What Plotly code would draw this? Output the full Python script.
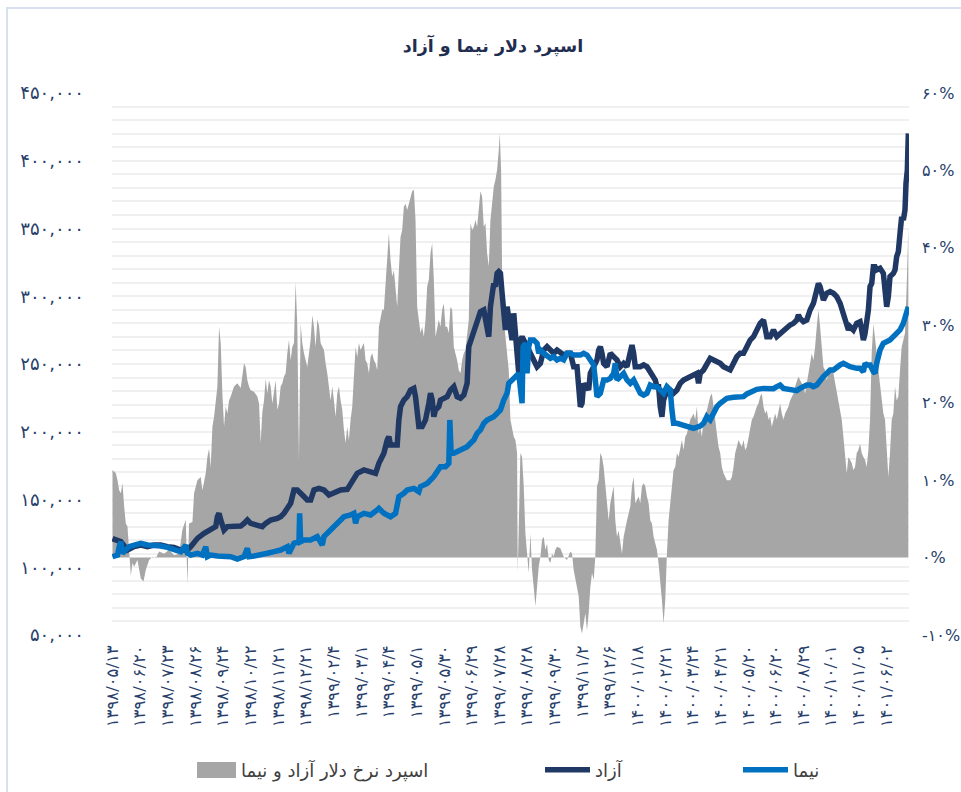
import plotly.graph_objects as go

# ---------------- data ----------------
x_labels = ["۱۳۹۸/۰۵/۱۳", "۱۳۹۸/۰۶/۲۰", "۱۳۹۸/۰۷/۲۳", "۱۳۹۸/۰۸/۲۶", "۱۳۹۸/۰۹/۲۴",
            "۱۳۹۸/۱۰/۲۲", "۱۳۹۸/۱۱/۲۱", "۱۳۹۸/۱۲/۲۱", "۱۳۹۹/۰۲/۴", "۱۳۹۹/۰۳/۱",
            "۱۳۹۹/۰۴/۴", "۱۳۹۹/۰۵/۱", "۱۳۹۹/۰۵/۳۰", "۱۳۹۹/۰۶/۲۹", "۱۳۹۹/۰۷/۲۸",
            "۱۳۹۹/۰۸/۲۸", "۱۳۹۹/۰۹/۳۰", "۱۳۹۹/۱۱/۲", "۱۳۹۹/۱۲/۶", "۱۴۰۰/۰۱/۱۸",
            "۱۴۰۰/۰۲/۲۱", "۱۴۰۰/۰۳/۲۴", "۱۴۰۰/۰۴/۲۱", "۱۴۰۰/۰۵/۲۰", "۱۴۰۰/۰۶/۲۰",
            "۱۴۰۰/۰۸/۲۹", "۱۴۰۰/۱۰/۰۱", "۱۴۰۰/۱۱/۰۵", "۱۴۰۱/۰۶/۰۲"]
label_every = 83  # observations between labelled dates

spread_obs = [0, 10, 15, 20, 25, 30, 35, 40, 45, 50, 55, 60, 65, 75, 85, 93, 100, 110, 120, 130,
              140, 155, 170, 185, 200, 210, 220, 225, 230, 240, 245, 255, 265, 270, 280, 285, 290, 295, 300, 305,
              310, 315, 320, 325, 330, 335, 340, 345, 350, 355, 365, 375, 385, 395, 400, 405, 410, 415, 425, 435,
              440, 445, 450, 455, 460, 465, 470, 475, 480, 485, 490, 495, 500, 505, 510, 515, 520, 525, 530, 535,
              540, 545, 550, 555, 560, 565, 570, 575, 585, 595, 600, 605, 610, 615, 620, 625, 635, 640, 645, 655,
              660, 665, 670, 675, 680, 685, 690, 695, 700, 705, 710, 715, 720, 725, 730, 735, 740, 745, 755, 760,
              765, 770, 775, 780, 785, 790, 795, 800, 805, 810, 815, 820, 825, 830, 835, 840, 845, 850, 855, 860,
              865, 870, 875, 880, 885, 890, 895, 900, 905, 910, 915, 920, 925, 930, 935, 940, 945, 950, 955, 960,
              965, 970, 975, 980, 985, 990, 995, 1000, 1005, 1010, 1015, 1020, 1025, 1030, 1035, 1040, 1045, 1050, 1055, 1060,
              1065, 1070, 1075, 1080, 1085, 1090, 1095, 1100, 1105, 1110, 1115, 1120, 1125, 1130, 1135, 1140, 1145, 1150, 1155, 1160,
              1163, 1167, 1170, 1175, 1180, 1185, 1190, 1195, 1200, 1205, 1210, 1215, 1217, 1220, 1225, 1230, 1235, 1240, 1245, 1250,
              1255, 1260, 1265, 1270, 1275, 1280, 1285, 1290, 1295, 1300, 1305, 1310, 1315, 1320, 1325, 1330, 1335, 1345, 1355, 1365,
              1375, 1380, 1385, 1390, 1395, 1400, 1405, 1410, 1415, 1420, 1425, 1430, 1435, 1440, 1445, 1450, 1455, 1460, 1465, 1470,
              1475, 1480, 1485, 1490, 1495, 1500, 1505, 1510, 1515, 1520, 1525, 1530, 1535, 1540, 1545, 1550, 1555, 1560, 1565, 1570,
              1575, 1580, 1585, 1590, 1595, 1600, 1605, 1610, 1615, 1620, 1625, 1630, 1635, 1640, 1645, 1650, 1655, 1660, 1665, 1670,
              1675, 1680, 1685, 1690, 1695, 1700, 1705, 1710, 1715, 1720, 1725, 1730, 1735, 1740, 1745, 1750, 1755, 1760, 1765, 1770,
              1775, 1780, 1785, 1790, 1795, 1800, 1805, 1810, 1815, 1820, 1825, 1830, 1835, 1840, 1845, 1855, 1860, 1865, 1870, 1875,
              1880, 1885, 1890, 1895, 1900, 1905, 1910, 1915, 1920, 1925, 1930, 1935, 1940, 1945, 1950, 1955, 1960, 1965, 1970, 1975,
              1980, 1985, 1990, 1995, 2000, 2005, 2010, 2015, 2020, 2025, 2030, 2035, 2040, 2045, 2050, 2055, 2060, 2065, 2070, 2075,
              2080, 2085, 2090, 2095, 2100, 2105, 2110, 2115, 2120, 2125, 2130, 2135, 2140, 2145, 2150, 2155, 2160, 2165, 2170, 2175,
              2180, 2185, 2190, 2195, 2200, 2205, 2210, 2215, 2220, 2225, 2230, 2235, 2240, 2245, 2250, 2255, 2260, 2265, 2270, 2275,
              2280, 2285, 2290, 2295, 2300, 2305, 2310, 2315, 2320, 2325, 2330, 2335, 2340, 2345, 2350, 2355, 2360, 2365, 2370, 2375,
              2380, 2385, 2390]
spread_pct = [11.3, 10.9, 10.0, 8.7, 8.3, 9.6, 6.6, 4.4, 4.0, 0.5, -2.3, -0.7, -1.2, -0.3, -2.7, -3.1, -1.6, -0.3, 0.1, -0.1,
              0.8, 0.5, 1.0, 0.3, 0.5, 3.6, 4.9, -3.5, 4.4, 4.6, 8.3, 10.0, 10.4, 8.7, 10.9, 13.0, 14.1, 11.7, 16.9, 18.2,
              19.9, 22.1, 29.8, 27.7, 21.2, 16.9, 19.5, 18.6, 20.3, 20.8, 22.1, 22.5, 21.9, 25.1, 24.6, 22.9, 22.1, 21.6, 21.4, 20.8,
              19.9, 14.8, 18.8, 20.3, 23.1, 21.2, 22.9, 22.1, 19.9, 21.2, 22.9, 19.1, 19.9, 22.1, 22.5, 23.4, 23.8, 26.4, 28.1, 25.5,
              27.2, 27.7, 35.6, 29.8, 12.6, 30.2, 27.7, 26.4, 24.6, 28.1, 31.3, 29.8, 27.2, 30.7, 30.0, 27.7, 26.8, 25.1, 23.8, 20.3,
              22.1, 20.3, 18.2, 21.2, 22.1, 20.3, 19.1, 16.5, 14.8, 16.9, 15.2, 17.8, 19.5, 23.4, 27.2, 25.9, 27.7, 26.8, 27.7, 25.5,
              25.1, 23.8, 25.9, 26.4, 25.5, 25.1, 24.2, 29.8, 31.1, 32.0, 32.0, 35.0, 39.3, 41.9, 38.4, 36.3, 37.1, 35.0, 32.4, 37.1,
              41.4, 42.3, 45.3, 45.7, 44.9, 45.7, 46.6, 47.3, 47.5, 43.6, 32.4, 30.7, 29.0, 29.8, 28.5, 30.7, 35.0, 35.9, 39.3, 40.6,
              35.9, 28.5, 29.8, 30.7, 29.8, 32.0, 32.8, 29.8, 29.8, 29.0, 32.4, 32.0, 27.2, 26.4, 25.5, 24.2, 23.8, 25.5, 26.4, 26.8,
              28.5, 30.7, 43.2, 42.3, 42.7, 43.6, 42.7, 45.3, 47.3, 46.6, 42.7, 43.2, 39.3, 37.6, 43.6, 45.7, 47.9, 48.8, 50.1, 52.6,
              54.8, 50.1, 37.1, 30.7, 28.5, 26.4, 24.2, 17.8, 16.9, 15.6, 15.2, 13.5, -2.0, 2.7, 13.5, 13.0, 9.2, 3.1, 0.5, -2.0,
              3.1, -1.6, -3.8, -6.3, -3.8, -1.2, 0.1, 2.3, 2.7, 1.0, 1.8, -0.3, -0.7, 0.5, 0.1, 1.0, 1.4, 1.2, 0.1, -0.3,
              0.8, 0.5, -1.6, -2.9, -3.8, -5.0, -8.9, -9.8, -8.5, -7.2, -9.4, -7.2, -3.8, -2.0, -2.9, 0.1, 9.2, 10.0, 13.5, 13.0,
              11.7, 9.2, 7.0, 4.8, 7.0, 8.3, 9.2, 4.8, 2.7, 3.5, 1.8, 0.5, 2.7, 4.0, 4.8, 5.7, 6.6, 9.2, 10.4, 7.0,
              7.4, 7.9, 7.0, 9.2, 9.6, 9.2, 7.9, 7.0, 4.8, 4.4, 2.7, 1.8, 1.0, -0.8, -2.9, -5.5, -8.5, -5.5, 0.5, 4.8,
              7.0, 9.2, 11.3, 11.7, 13.5, 13.0, 14.3, 15.2, 13.9, 15.6, 16.0, 16.9, 17.8, 18.2, 18.6, 17.8, 19.5, 16.0, 16.9, 15.6,
              17.8, 18.6, 19.0, 19.9, 20.8, 21.2, 19.0, 17.8, 16.0, 14.3, 13.5, 11.7, 10.9, 10.4, 10.0, 10.0, 10.4, 11.7, 13.5, 14.3,
              15.2, 14.7, 14.3, 15.2, 13.9, 14.3, 15.6, 16.9, 17.8, 18.2, 19.0, 19.5, 19.9, 20.8, 21.2, 19.5, 18.6, 19.0, 17.8, 18.2,
              16.9, 17.8, 18.6, 17.8, 19.0, 19.9, 18.6, 17.8, 18.6, 19.0, 19.5, 20.3, 20.8, 21.2, 22.1, 22.9, 23.4, 22.9, 22.5, 22.1,
              21.2, 22.5, 23.8, 24.6, 26.4, 25.5, 27.2, 29.8, 32.0, 29.8, 27.2, 24.6, 24.2, 22.9, 23.8, 24.2, 24.6, 23.8, 22.5, 21.2,
              19.9, 19.0, 17.8, 15.6, 13.5, 10.9, 13.0, 12.6, 12.2, 11.3, 11.7, 13.5, 13.9, 14.7, 13.5, 13.0, 12.6, 11.7, 13.9, 17.8,
              26.4, 30.2, 28.5, 26.4, 24.2, 22.1, 19.9, 18.6, 17.8, 13.5, 10.4, 13.5, 17.8, 18.6, 22.1, 20.3, 20.8, 24.2, 27.2, 28.1,
              29.0, 35.0, 42.7]

azad_obs = [0, 25, 45, 65, 85, 105, 125, 145, 165, 185, 205, 225, 235, 245, 255, 275, 295, 310, 315, 320,
            325, 335, 345, 365, 385, 395, 405, 415, 435, 450, 460, 475, 495, 505, 515, 525, 535, 545, 555, 565,
            585, 595, 605, 620, 635, 650, 665, 685, 705, 715, 725, 735, 755, 775, 790, 800, 815, 825, 830, 835,
            845, 855, 860, 865, 875, 885, 895, 905, 910, 915, 920, 930, 940, 950, 955, 960, 965, 970, 980, 985,
            995, 1005, 1015, 1025, 1035, 1045, 1055, 1065, 1070, 1080, 1090, 1100, 1105, 1115, 1125, 1130, 1135, 1145, 1150, 1155,
            1160, 1165, 1170, 1175, 1180, 1185, 1190, 1195, 1200, 1205, 1210, 1215, 1220, 1225, 1230, 1235, 1245, 1255, 1265, 1275,
            1285, 1295, 1305, 1315, 1325, 1335, 1345, 1355, 1365, 1375, 1385, 1395, 1400, 1405, 1410, 1415, 1420, 1425, 1430, 1435,
            1445, 1455, 1460, 1465, 1470, 1475, 1485, 1495, 1505, 1515, 1525, 1535, 1545, 1555, 1560, 1565, 1570, 1585, 1595, 1605,
            1615, 1620, 1625, 1630, 1635, 1640, 1645, 1650, 1655, 1665, 1675, 1685, 1695, 1705, 1715, 1725, 1735, 1745, 1755, 1760,
            1765, 1775, 1785, 1795, 1805, 1815, 1825, 1835, 1845, 1855, 1865, 1875, 1885, 1895, 1905, 1915, 1925, 1935, 1945, 1955,
            1960, 1965, 1975, 1985, 1995, 2005, 2015, 2025, 2035, 2045, 2055, 2060, 2065, 2075, 2085, 2095, 2105, 2115, 2120, 2125,
            2130, 2135, 2145, 2155, 2165, 2175, 2185, 2195, 2200, 2205, 2210, 2215, 2225, 2235, 2245, 2250, 2255, 2260, 2265, 2270,
            2275, 2280, 2285, 2290, 2295, 2305, 2315, 2320, 2325, 2330, 2335, 2345, 2350, 2355, 2360, 2365, 2370, 2375, 2380, 2383,
            2387, 2390]
azad_rate = [121100, 118900, 112700, 115200, 116400, 115200, 116400, 116400, 115200, 114700, 112700, 112700, 115200, 118100, 121300, 125000, 127500, 130000, 137300, 139800,
             134900, 127500, 130000, 130000, 130400, 132400, 134900, 132400, 131200, 130000, 132400, 134900, 136100, 137300, 139800, 143500, 147200, 157000, 157000, 154600,
             149600, 149600, 157000, 158200, 157000, 153300, 154600, 157000, 157500, 161900, 166900, 169300, 171800, 170500, 169300, 176700, 184100, 193900, 196400, 190200,
             190200, 190200, 208700, 218500, 223400, 225900, 230800, 232000, 225900, 208700, 203800, 203800, 208700, 221000, 228400, 223400, 211100, 216100, 218500, 223400,
             224700, 225900, 230800, 233300, 225900, 224700, 227100, 235700, 262800, 270200, 275100, 282500, 288600, 289900, 277600, 270200, 292300, 309500, 307100, 316900,
             318100, 316900, 302200, 282500, 275100, 292300, 282500, 270200, 267700, 287400, 270200, 255400, 243100, 267700, 270200, 267700, 262800, 257900, 253000, 248000,
             250500, 260300, 262800, 260300, 257900, 260300, 257900, 256600, 257900, 257900, 248000, 248000, 233300, 218500, 221000, 235700, 233300, 233300, 230800, 243100,
             248000, 253000, 260300, 262800, 257900, 250500, 248000, 257900, 255400, 253000, 248000, 250500, 248000, 257900, 264000, 257900, 248000, 248000, 249300, 248000,
             244300, 243100, 240700, 238200, 233300, 233300, 218500, 211100, 223400, 230800, 230800, 228400, 230800, 235700, 238200, 239400, 240700, 241900, 243100, 235700,
             243100, 245600, 250500, 254200, 253000, 251700, 250500, 248000, 246800, 245600, 250500, 255400, 257900, 257900, 262800, 267700, 270200, 275100, 280000, 282500,
             272600, 270200, 270200, 275100, 270200, 272600, 275100, 277600, 278800, 280000, 282500, 286200, 283700, 281200, 282500, 289900, 294800, 304600, 309500, 307100,
             302200, 297200, 302200, 303400, 302200, 299700, 294800, 287400, 282500, 277600, 275100, 277600, 275100, 280000, 281200, 275100, 267700, 272600, 280000, 289900,
             307100, 309500, 321800, 321800, 319400, 320600, 316900, 307100, 292300, 299700, 314500, 316900, 319400, 329200, 332900, 346400, 358700, 356300, 363700, 383300,
             393200, 420200]

nima_obs = [0, 15, 20, 25, 30, 40, 50, 65, 85, 105, 125, 145, 165, 185, 205, 220, 225, 235, 255, 270,
            280, 285, 295, 315, 335, 355, 375, 395, 405, 410, 425, 445, 465, 485, 505, 525, 530, 545, 560, 562,
            565, 575, 595, 615, 630, 635, 655, 675, 695, 715, 725, 730, 735, 755, 775, 795, 800, 815, 825, 835,
            850, 860, 875, 885, 905, 920, 925, 945, 965, 985, 1000, 1010, 1013, 1017, 1025, 1045, 1065, 1075, 1085, 1095,
            1105, 1115, 1125, 1145, 1155, 1165, 1175, 1185, 1190, 1200, 1215, 1220, 1230, 1233, 1240, 1245, 1250, 1255, 1265, 1275,
            1280, 1285, 1295, 1305, 1315, 1325, 1335, 1345, 1355, 1365, 1375, 1385, 1405, 1415, 1425, 1435, 1445, 1450, 1455, 1465,
            1475, 1485, 1495, 1505, 1510, 1515, 1525, 1535, 1545, 1555, 1565, 1575, 1585, 1595, 1605, 1615, 1625, 1635, 1645, 1655,
            1665, 1675, 1680, 1685, 1695, 1705, 1715, 1725, 1735, 1745, 1755, 1765, 1775, 1785, 1795, 1805, 1815, 1825, 1835, 1845,
            1865, 1885, 1895, 1905, 1915, 1925, 1935, 1955, 1975, 1985, 1995, 2005, 2015, 2035, 2055, 2065, 2075, 2085, 2095, 2105,
            2115, 2125, 2135, 2145, 2155, 2165, 2175, 2185, 2195, 2205, 2215, 2235, 2245, 2255, 2260, 2265, 2275, 2285, 2290, 2295,
            2305, 2315, 2325, 2335, 2345, 2355, 2365, 2375, 2385, 2390]
nima_rate = [107800, 109000, 115200, 118900, 110300, 112700, 115200, 116400, 117700, 116400, 116400, 115700, 114700, 113200, 111500, 116400, 110300, 109000, 110300, 109000,
             115200, 107800, 109000, 108300, 107800, 107800, 106100, 107800, 114000, 107800, 108300, 109000, 110300, 111500, 112700, 115200, 110300, 117700, 118900, 139800,
             118900, 120100, 120100, 122600, 116400, 122600, 127500, 132400, 137300, 138600, 139800, 132400, 137300, 139800, 138600, 142300, 143500, 139800, 138600, 137300,
             139800, 152100, 154600, 157000, 158200, 155800, 159500, 161900, 166900, 174200, 174200, 176700, 208700, 184100, 184100, 186500, 189000, 191500, 193900, 198800,
             201300, 206200, 208700, 211100, 213600, 216100, 223400, 228400, 235700, 238200, 240700, 243100, 221000, 262800, 265300, 243100, 262800, 267700, 267700, 265300,
             257900, 260300, 257900, 255400, 254200, 255400, 253000, 254200, 253000, 257900, 257900, 256600, 256600, 257900, 256600, 253000, 249300, 238200, 225900, 228400,
             238200, 238200, 239400, 243100, 250500, 238200, 240700, 243100, 238200, 235700, 238200, 233300, 228400, 227100, 228400, 234500, 233300, 233300, 230800, 228400,
             233300, 230800, 216100, 206200, 206200, 205700, 204200, 203800, 203300, 202500, 203300, 204200, 206200, 211100, 208700, 213600, 218500, 221000, 223400, 224700,
             225400, 225900, 225900, 227900, 228800, 230300, 231300, 232000, 231300, 231800, 233300, 234500, 232000, 230800, 230300, 232000, 233300, 234500, 234500, 233300,
             234500, 238200, 240700, 243100, 245600, 245600, 248000, 249300, 250500, 249300, 248000, 246800, 246800, 244300, 250500, 249300, 249300, 244300, 243100, 250500,
             260300, 265300, 266500, 267700, 270200, 272600, 275100, 280000, 287400, 292300]

value_ticks = list(range(50000, 450001, 50000))
pct_ticks = list(range(-10, 61, 10))

title_text = "اسپرد دلار نیما و آزاد"
name_spread = "اسپرد نرخ دلار آزاد و نیما"
name_azad = "آزاد"
name_nima = "نیما"

# ---------------- helpers ----------------
FA = str.maketrans("0123456789", "۰۱۲۳۴۵۶۷۸۹")


def fa(s):
    return str(s).translate(FA)


NAVY = "#283f6b"
FONT = "DejaVu Sans"
OFF = 0  # page body margin is removed by the post script below

W, H = 961, 792
# plot area in screen pixels: x 112..909, y 93..635
L = 112 - OFF
R = W - (909 - OFF)
T = 93 - OFF
B = H - (635 - OFF)
pw, ph = W - L - R, H - T - B


def px_x(p):
    return (p - OFF - L) / pw


def px_y(p):
    return (H - B - (p - OFF)) / ph


fig = go.Figure()

fig.add_trace(go.Scatter(
    x=spread_obs, y=spread_pct, yaxis="y", mode="lines",
    fill="tozeroy", fillcolor="#a6a6a6",
    line=dict(width=0, color="#a6a6a6"),
    name=name_spread, showlegend=False, hoverinfo="skip"))

fig.add_trace(go.Scatter(
    x=azad_obs, y=azad_rate, yaxis="y2", mode="lines",
    line=dict(width=5.5, color="#203864"),
    name=name_azad, legend="legend2"))

fig.add_trace(go.Scatter(
    x=nima_obs, y=nima_rate, yaxis="y2", mode="lines",
    line=dict(width=5.5, color="#0070c0"),
    name=name_nima, legend="legend3"))

legend_common = dict(orientation="h", bgcolor="rgba(0,0,0,0)",
                     font=dict(family=FONT, size=18, color="#404040"),
                     xanchor="left", yanchor="middle", itemwidth=45)

fig.update_layout(
    width=W, height=H, autosize=False,
    margin=dict(l=L, r=R, t=T, b=B, autoexpand=False),
    paper_bgcolor="white", plot_bgcolor="white",
    font=dict(family=FONT, color=NAVY),
    title=dict(text="<b>" + title_text + "</b>", x=px_x(493), xref="paper",
               xanchor="center", y=1 - (46 - OFF) / H, yanchor="middle",
               font=dict(family=FONT, size=17.5, color="#1f2e4f")),
    xaxis=dict(range=[-1.5, 2392], tickmode="array", automargin=False,
               tickvals=[label_every * i for i in range(len(x_labels))],
               ticktext=x_labels, tickangle=-90,
               tickfont=dict(family=FONT, size=16.5, color=NAVY),
               showgrid=False, zeroline=False, showline=False, ticks="",
               ticklabelstandoff=6),
    yaxis=dict(side="right", range=[-10, 60], tickmode="array", automargin=False,
               tickvals=pct_ticks, ticktext=[fa(f"{v}%") for v in pct_ticks],
               tickfont=dict(family=FONT, size=16, color=NAVY),
               showgrid=False, zeroline=False, showline=False, ticks="",
               ticklabelstandoff=12),
    yaxis2=dict(side="left", overlaying="y", range=[50000, 450000], tickmode="array",
                automargin=False,
                tickvals=value_ticks, ticktext=[fa(f"{v:,}") for v in value_ticks],
                tickfont=dict(family=FONT, size=18, color=NAVY),
                showgrid=True, gridcolor="#f0f0f0", gridwidth=2,
                minor=dict(dtick=10000, showgrid=True, gridcolor="#f0f0f0", gridwidth=2),
                zeroline=False, showline=False, ticks="",
                ticklabelstandoff=27),
    legend2=dict(x=px_x(540), y=px_y(770), **legend_common),
    legend3=dict(x=px_x(738), y=px_y(770), **legend_common),
    shapes=[
        dict(type="rect", xref="paper", yref="paper",
             x0=px_x(7), x1=px_x(985), y0=px_y(815), y1=px_y(8),
             line=dict(color="#d7e1ef", width=2), fillcolor="rgba(0,0,0,0)", layer="below"),
        dict(type="rect", xref="paper", yref="paper",
             x0=px_x(197), x1=px_x(236), y0=px_y(778), y1=px_y(762),
             line=dict(width=0), fillcolor="#a6a6a6"),
    ],
    annotations=[
        dict(text=name_spread, xref="paper", yref="paper", x=px_x(239), y=px_y(770),
             xanchor="left", yanchor="middle", showarrow=False,
             font=dict(family=FONT, size=18, color="#404040")),
    ],
)

fig.write_html("out.html", include_plotlyjs=True, config={"displayModeBar": False},
               post_script="document.body.style.margin='0';document.body.style.overflow='hidden';")
